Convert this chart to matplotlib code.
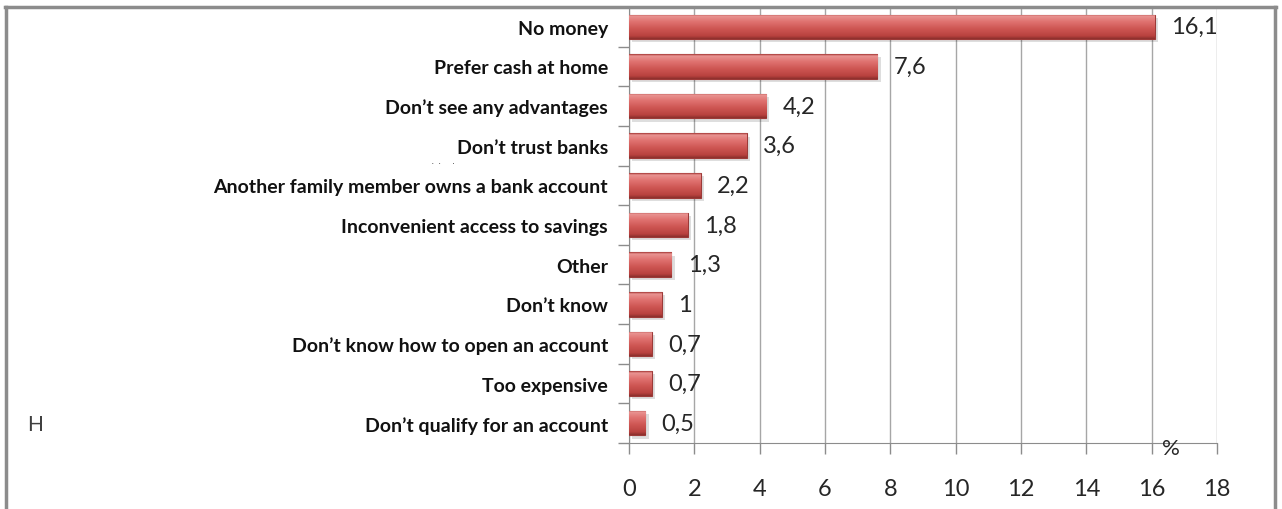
import numpy as np
import matplotlib.pyplot as plt
from matplotlib.colors import LinearSegmentedColormap
from matplotlib.patches import Rectangle

reasons = [
    "No money",
    "Prefer cash at home",
    "Don’t see any advantages",
    "Don’t trust banks",
    "Another family member owns a bank account",
    "Inconvenient access to savings",
    "Other",
    "Don’t know",
    "Don’t know how to open an account",
    "Too expensive",
    "Don’t qualify for an account",
]
shares = [16.1, 7.6, 4.2, 3.6, 2.2, 1.8, 1.3, 1.0, 0.7, 0.7, 0.5]
value_labels = ["16,1", "7,6", "4,2", "3,6", "2,2", "1,8", "1,3", "1", "0,7", "0,7", "0,5"]
xticks = list(range(0, 20, 2))

plt.rcParams['font.family'] = ['Lato', 'DejaVu Sans']

fig = plt.figure(figsize=(12.82, 5.10), dpi=100)
fig.patch.set_facecolor('white')
ax = fig.add_axes([0.4906, 0.1294, 0.4587, 0.8549])

y = np.arange(len(reasons))
bar_h = 0.62

# shaded bar fill: light band near the top, darker toward the bottom edge
bar_cmap = LinearSegmentedColormap.from_list(
    'bar', [(0.0, '#a83c3a'), (0.07, '#e99492'), (0.3, '#e07270'),
            (0.6, '#cd5552'), (0.88, '#b9423f'), (1.0, '#8c2f2d')])
grad = np.linspace(0, 1, 64).reshape(-1, 1)

for yi, v in zip(y, shares):
    # soft drop shadow
    ax.add_patch(Rectangle((0.1, yi - bar_h / 2 + 0.08), v, bar_h,
                           facecolor='#000000', alpha=0.13, lw=0, zorder=2))
bars = ax.barh(y, shares, height=bar_h, color='#c0504d', edgecolor='#9c3a38',
               linewidth=0.8, zorder=3)
for b in bars:
    x0, y0 = b.get_x(), b.get_y()
    w, h = b.get_width(), b.get_height()
    im = ax.imshow(grad, cmap=bar_cmap, aspect='auto', zorder=3.5,
                   extent=(x0, x0 + w, y0, y0 + h), origin='lower')
    im.set_clip_path(b)

for yi, v, lab in zip(y, shares, value_labels):
    ax.text(v + 0.5, yi, lab, va='center', ha='left', fontsize=17,
            color='#262626', zorder=5)

ax.set_xlim(0, 18)
ax.set_ylim(len(reasons) - 0.5, -0.5)
ax.set_xticks(xticks)
ax.set_xticklabels([str(t) for t in xticks], fontsize=17, color='#262626')
ax.tick_params(axis='x', length=8, width=1, color='#8c8c8c', pad=17)

ax.set_yticks(y)
ax.set_yticklabels(reasons, fontsize=14, fontweight='bold', color='#111111')
ax.tick_params(axis='y', which='major', length=0, pad=15)
ax.set_yticks(np.arange(-0.5, len(reasons), 1), minor=True)
ax.tick_params(axis='y', which='minor', length=8, width=1, color='#8c8c8c')

ax.grid(axis='x', color='#a6a6a6', linewidth=1, zorder=0)
ax.set_axisbelow(True)
for side in ['top', 'right']:
    ax.spines[side].set_visible(False)
ax.spines['left'].set_color('#8c8c8c')
ax.spines['bottom'].set_color('#8c8c8c')

ax.text(16.6, 0.012, '%', transform=ax.get_xaxis_transform(), fontsize=16,
        ha='center', va='top', color='#262626')

fig.text(35 / 1282, 1 - 425 / 510, 'H', fontsize=15, color='#404040',
         ha='center', va='center')
fig.text(432 / 1282, 1 - 162 / 510, '.   .       .', fontsize=5, color='#222222',
         ha='left', va='center')

# outer chart frame
fig.add_artist(plt.Line2D([6 / 1282, 6 / 1282], [0, 1 - 8 / 510],
                          transform=fig.transFigure, color='#8c8c8c', lw=2.5))
fig.add_artist(plt.Line2D([1275 / 1282, 1275 / 1282], [0, 1 - 8 / 510],
                          transform=fig.transFigure, color='#8c8c8c', lw=2.5))
fig.add_artist(plt.Line2D([5 / 1282, 1276 / 1282], [1 - 8 / 510, 1 - 8 / 510],
                          transform=fig.transFigure, color='#8c8c8c', lw=2.5))

fig.savefig('out.png', dpi=100)
